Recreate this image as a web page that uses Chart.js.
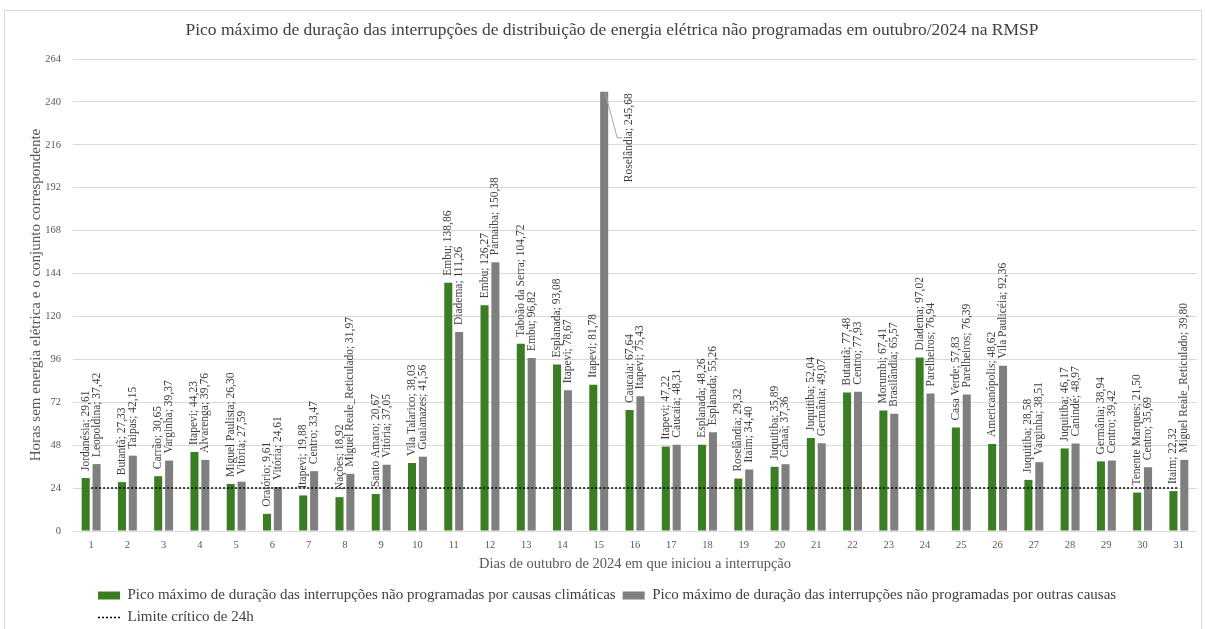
<!DOCTYPE html>
<html>
<head>
<meta charset="utf-8">
<script src="https://cdn.jsdelivr.net/npm/chart.js@4"></script>
<style>
  body { margin: 0; background: #fff; overflow: hidden; }
  #box { position: absolute; left: 4px; top: 10px; width: 1196px; height: 626px; border: 1px solid #d9d9d9; }
</style>
</head>
<body>
<div id="box"><canvas id="chart" width="1196" height="626"></canvas></div>
<script>
// dias de outubro/2024
const days = ['1','2','3','4','5','6','7','8','9','10','11','12','13','14','15','16',
              '17','18','19','20','21','22','23','24','25','26','27','28','29','30','31'];

// causas climáticas (verde)
const climaticNames = ['Jordanésia','Butantã','Carrão','Itapevi','Miguel Paulista','Oratório','Itapevi',
  'Nações','Santo Amaro','Vila Talarico','Embu','Embu','Taboão da Serra','Esplanada','Itapevi','Caucaia',
  'Itapevi','Esplanada','Roselândia','Juquitiba','Juquitiba','Butantã','Morumbi','Diadema','Casa Verde',
  'Americanópolis','Juquitiba','Juquitiba','Germânia','Tenente Marques','Itaim'];
const climaticValues = [29.61, 27.33, 30.65, 44.23, 26.30, 9.61, 19.88, 18.92, 20.67, 38.03, 138.86,
  126.27, 104.72, 93.08, 81.78, 67.64, 47.22, 48.26, 29.32, 35.89, 52.04, 77.48, 67.41, 97.02, 57.83,
  48.62, 28.58, 46.17, 38.94, 21.50, 22.32];

// outras causas (cinza)
const otherNames = ['Leopoldina','Taipas','Varginha','Alvarenga','Vitória','Vitória','Centro',
  'Miguel Reale_Reticulado','Vitória','Guaianazes','Diadema','Parnaíba','Embu','Itapevi','Roselândia',
  'Itapevi','Caucaia','Esplanada','Itaim','Canaã','Germânia','Centro','Brasilândia','Parelheiros',
  'Parelheiros','Vila Paulicéia','Varginha','Canindé','Centro','Centro','Miguel Reale_Reticulado'];
const otherValues = [37.42, 42.15, 39.37, 39.76, 27.59, 24.61, 33.47, 31.97, 37.05, 41.56, 111.26,
  150.38, 96.82, 78.67, 245.68, 75.43, 48.31, 55.26, 34.40, 37.36, 49.07, 77.93, 65.57, 76.94, 76.39,
  92.36, 38.51, 48.97, 39.42, 35.69, 39.80];

// limite crítico
const limitValues = [24,24,24,24,24,24,24,24,24,24,24,24,24,24,24,24,
                     24,24,24,24,24,24,24,24,24,24,24,24,24,24,24];

const yTicks = [0, 24, 48, 72, 96, 120, 144, 168, 192, 216, 240, 264];

const serif = "'Liberation Serif', 'Times New Roman', serif";
const fmt = v => v.toFixed(2).replace('.', ',');

// rótulos "Nome; valor" girados acima de cada barra
const barLabels = {
  id: 'barLabels',
  afterDatasetsDraw(chart) {
    const ctx = chart.ctx;
    const area = chart.chartArea;
    ctx.save();
    ctx.font = '11.5px ' + serif;
    ctx.fillStyle = '#404040';
    chart.data.datasets.forEach((ds, di) => {
      if (!ds.names) return;
      chart.getDatasetMeta(di).data.forEach((bar, i) => {
        const text = ds.names[i] + '; ' + fmt(ds.data[i]);
        const w = ctx.measureText(text).width;
        if (bar.y - 7 - w < area.top - 40) {
          // não cabe: rótulo ao lado com linha de chamada
          const cy = bar.y + 46;
          ctx.strokeStyle = '#a6a6a6';
          ctx.lineWidth = 1;
          ctx.beginPath();
          ctx.moveTo(bar.x + 1, bar.y + 1);
          ctx.lineTo(bar.x + 13, cy);
          ctx.lineTo(bar.x + 18, cy);
          ctx.stroke();
          ctx.save();
          ctx.translate(bar.x + 25, cy);
          ctx.rotate(-Math.PI / 2);
          ctx.textAlign = 'center';
          ctx.textBaseline = 'middle';
          ctx.fillText(text, 0, 0);
          ctx.restore();
          return;
        }
        ctx.save();
        ctx.translate(bar.x, bar.y - 7);
        ctx.rotate(-Math.PI / 2);
        ctx.textAlign = 'left';
        ctx.textBaseline = 'middle';
        ctx.fillText(text, 0, 0);
        ctx.restore();
      });
    });
    ctx.restore();
  }
};

// legenda alinhada um pouco para dentro
const legendShift = {
  id: 'legendShift',
  afterLayout(chart) {
    chart.legend.left += 18;
    chart.legend.right += 18;
  }
};

new Chart(document.getElementById('chart'), {
  type: 'bar',
  data: {
    labels: days,
    datasets: [
      {
        label: 'Pico máximo de duração das interrupções não programadas por causas climáticas',
        data: climaticValues,
        names: climaticNames,
        backgroundColor: '#3a7d22',
        categoryPercentage: 0.6,
        barPercentage: 0.74,
        order: 2
      },
      {
        label: 'Pico máximo de duração das interrupções não programadas por outras causas',
        data: otherValues,
        names: otherNames,
        backgroundColor: '#7f7f7f',
        categoryPercentage: 0.6,
        barPercentage: 0.74,
        order: 2
      },
      {
        type: 'line',
        label: 'Limite crítico de 24h',
        data: limitValues,
        borderColor: '#000',
        borderWidth: 1.5,
        borderDash: [2, 2],
        pointRadius: 0,
        fill: false,
        order: 1
      }
    ]
  },
  options: {
    responsive: false,
    animation: false,
    layout: { padding: { left: 22, right: 4, bottom: 2 } },
    plugins: {
      title: {
        display: true,
        text: 'Pico máximo de duração das interrupções de distribuição de energia elétrica não programadas em outubro/2024 na RMSP',
        color: '#404040',
        font: { family: serif, size: 17.5, weight: 'normal' },
        padding: { top: 9, bottom: 18 }
      },
      legend: {
        position: 'bottom',
        align: 'start',
        fullSize: false,
        labels: {
          color: '#404040',
          font: { family: serif, size: 15 },
          usePointStyle: true,
          pointStyleWidth: 22,
          boxHeight: 8,
          padding: 7,
          generateLabels(chart) {
            const items = Chart.defaults.plugins.legend.labels.generateLabels(chart);
            items.sort((a, b) => a.datasetIndex - b.datasetIndex);
            items.forEach(it => {
              if (it.datasetIndex === 2) {
                it.pointStyle = 'line';
                it.strokeStyle = '#000';
                it.lineWidth = 1.5;
                it.lineDash = [2, 2];
              } else {
                it.pointStyle = 'rect';
              }
            });
            return items;
          }
        }
      },
      tooltip: { enabled: false }
    },
    scales: {
      x: {
        afterFit: s => { s.height = 50; },
        grid: { display: false, drawTicks: false },
        border: { display: false },
        ticks: { color: '#595959', font: { family: serif, size: 10.5 }, padding: 8 },
        title: {
          display: true,
          text: 'Dias de outubro de 2024 em que iniciou a interrupção',
          color: '#595959',
          font: { family: serif, size: 14.5 },
          padding: { top: 3, bottom: 8 }
        }
      },
      y: {
        min: 0,
        max: 264,
        afterBuildTicks: s => { s.ticks = yTicks.map(v => ({ value: v })); },
        afterFit: s => { s.width = 46; },
        grid: { color: '#d9d9d9', drawTicks: false },
        border: { display: false },
        ticks: { color: '#595959', font: { family: serif, size: 10.5 }, padding: 12 },
        title: {
          display: true,
          text: 'Horas sem energia elétrica e o conjunto correspondente',
          color: '#595959',
          font: { family: serif, size: 15 },
          padding: { top: 0, bottom: 2 }
        }
      }
    }
  },
  plugins: [barLabels, legendShift]
});
</script>
</body>
</html>
